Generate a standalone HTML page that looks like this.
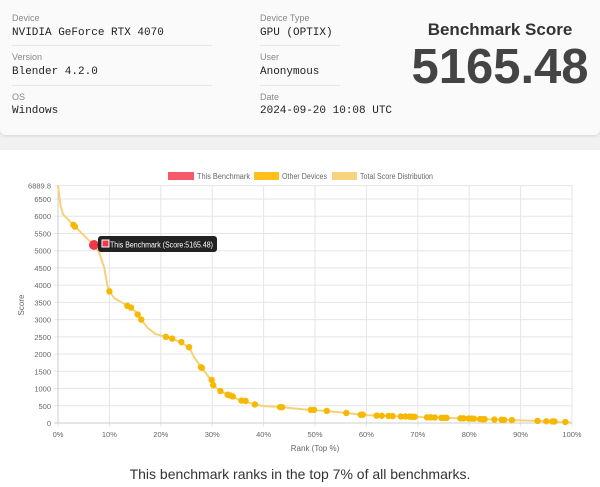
<!DOCTYPE html>
<html><head><meta charset="utf-8"><style>
body{margin:0;width:600px;height:487px;background:#f1f1f1;font-family:"Liberation Sans",sans-serif;overflow:hidden;position:relative}
.card1{position:absolute;left:0;top:0;width:600px;height:135px;background:#fafafa;border-radius:0 0 6px 6px;box-shadow:0 1px 3px rgba(0,0,0,.12)}
.card2{position:absolute;left:0;top:150px;width:600px;height:337px;background:#fff}
.lab{position:absolute;font-size:9px;color:#888}
.val{position:absolute;font-family:"Liberation Mono",monospace;font-size:11px;color:#222}
.sep{position:absolute;height:1px;background:#e6e6e6}
</style></head><body>
<div class="card1">
<div class="lab" style="left:12px;top:13px">Device</div><div class="val" style="left:12px;top:27px">NVIDIA GeForce RTX 4070</div>
<div class="sep" style="left:12px;top:45px;width:200px"></div>
<div class="lab" style="left:12px;top:52px">Version</div><div class="val" style="left:12px;top:66px">Blender 4.2.0</div>
<div class="sep" style="left:12px;top:85px;width:200px"></div>
<div class="lab" style="left:12px;top:92px">OS</div><div class="val" style="left:12px;top:105px">Windows</div>
<div class="lab" style="left:260px;top:13px">Device Type</div><div class="val" style="left:260px;top:27px">GPU (OPTIX)</div>
<div class="sep" style="left:260px;top:45px;width:80px"></div>
<div class="lab" style="left:260px;top:52px">User</div><div class="val" style="left:260px;top:66px">Anonymous</div>
<div class="sep" style="left:260px;top:85px;width:80px"></div>
<div class="lab" style="left:260px;top:92px">Date</div><div class="val" style="left:260px;top:105px">2024-09-20 10:08 UTC</div>
<div style="position:absolute;left:400px;width:200px;top:20px;text-align:center;font-weight:bold;font-size:17px;color:#333">Benchmark Score</div>
<div style="position:absolute;left:400px;width:200px;top:39px;text-align:center;font-weight:bold;font-size:49px;color:#444;line-height:56px">5165.48</div>
</div>
<div class="card2"></div>
<svg id="s" width="600" height="487" style="position:absolute;left:0;top:0" font-family="Liberation Sans, sans-serif"></svg>
<div style="position:absolute;left:0;width:600px;top:466px;text-align:center;font-size:14px;color:#333">This benchmark ranks in the top 7% of all benchmarks.</div>
<script>
const X=p=>58+5.14*p, Y=s=>423-0.03446*s;
let h='';
for(let i=0;i<=10;i++){h+=`<line x1="${X(i*10)}" y1="185" x2="${X(i*10)}" y2="427" stroke="#e5e5e5"/>`;
h+=`<text x="${X(i*10)}" y="437" font-size="7.5" fill="#666" text-anchor="middle">${i*10}%</text>`;}
for(let v=0;v<=6500;v+=500){h+=`<line x1="54" y1="${Y(v)}" x2="572" y2="${Y(v)}" stroke="#e5e5e5"/><text x="51" y="${Y(v)+3}" font-size="7.5" fill="#666" text-anchor="end">${v}</text>`;}
h+=`<line x1="54" y1="${Y(6889.8)}" x2="572" y2="${Y(6889.8)}" stroke="#e5e5e5"/><text x="51" y="${Y(6889.8)+3}" font-size="7.5" fill="#666" text-anchor="end">6889.8</text>`;
h+=`<line x1="58" y1="185" x2="58" y2="423" stroke="#ccc"/><line x1="54" y1="423" x2="572" y2="423" stroke="#ccc"/>`;
const c=[[0,6889.8],[0.5,6300],[1,6050],[2,5900],[3,5750],[5,5450],[6,5300],[7,5165],[8,4950],[9,4500],[9.6,4000],[10,3820],[11,3620],[13.5,3400],[15,3250],[16.2,3000],[17.5,2750],[19,2580],[21,2500],[23,2400],[25.5,2200],[26.5,1900],[28,1600],[29.5,1300],[30.5,1050],[31.6,930],[33,820],[35.5,660],[38.3,540],[40,490],[43,470],[46,420],[49,380],[52,350],[56,290],[60,230],[65,200],[70,175],[75,150],[80,125],[85,100],[90,75],[95,50],[100,5]];
h+=`<path d="M${c.map(q=>X(q[0]).toFixed(1)+','+Y(q[1]).toFixed(1)).join(' L')}" fill="none" stroke="#f5d27a" stroke-width="2"/>`;
const pts=[[3,5750],[3.3,5700],[10,3820],[13.5,3400],[14.2,3350],[15.5,3150],[16.2,3000],[21,2500],[22.2,2450],[24,2350],[25.5,2200],[27.8,1620],[28,1600],[29.9,1250],[30.2,1100],[31.6,930],[33,820],[33.5,800],[34,770],[35.7,650],[36.5,640],[38.3,540],[43.2,460],[43.6,460],[49.2,380],[49.8,380],[52.3,350],[56.1,290],[58.9,240],[59.3,240],[62,215],[63,210],[64.3,205],[65.1,200],[66.7,190],[67.6,190],[68.4,185],[68.9,180],[69.4,180],[71.8,165],[72.5,165],[73.3,160],[74.6,150],[75.1,150],[75.6,150],[78.3,135],[78.9,135],[79.9,130],[80.4,130],[80.9,125],[82.1,115],[82.6,110],[83,110],[84.9,100],[86.3,95],[86.8,90],[88.3,85],[93.3,60],[95,50],[96.2,45],[96.6,45],[98.7,30]];
pts.forEach(q=>h+=`<circle cx="${X(q[0])}" cy="${Y(q[1])}" r="3.2" fill="#f6b800"/>`);
h+=`<circle cx="${X(7)}" cy="${Y(5165.48)}" r="5" fill="#f0384c"/>`;
h+=`<path d="M97,245 l4,-4 v8z" fill="#222"/><rect x="98" y="236" width="119" height="16" rx="3" fill="#222"/><rect x="102" y="240" width="7" height="7" fill="#f0384c" stroke="#fff"/><text x="110" y="247.5" font-size="8" fill="#fff" textLength="103" lengthAdjust="spacingAndGlyphs">This Benchmark (Score:5165.48)</text>`;
h+=`<rect x="168" y="172" width="26" height="8" fill="#f7586a"/><text x="197" y="179" font-size="8" fill="#666" textLength="53" lengthAdjust="spacingAndGlyphs">This Benchmark</text>`;
h+=`<rect x="254" y="172" width="25" height="8" fill="#ffbf1a"/><text x="282" y="179" font-size="8" fill="#666" textLength="45" lengthAdjust="spacingAndGlyphs">Other Devices</text>`;
h+=`<rect x="332" y="172" width="25" height="8" fill="#f8d37e"/><text x="360" y="179" font-size="8" fill="#666" textLength="73" lengthAdjust="spacingAndGlyphs">Total Score Distribution</text>`;
h+=`<text x="24" y="305" font-size="8" fill="#666" text-anchor="middle" transform="rotate(-90 24 305)">Score</text>`;
h+=`<text x="315" y="451" font-size="8" fill="#666" text-anchor="middle">Rank (Top %)</text>`;
document.getElementById('s').innerHTML=h;
</script>
</body></html>
